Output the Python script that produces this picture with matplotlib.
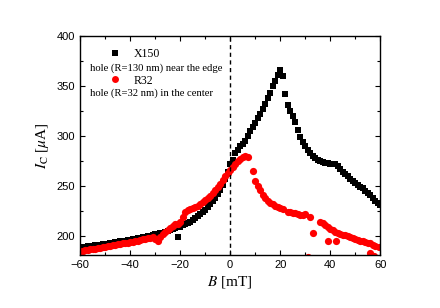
import matplotlib
matplotlib.use("Agg")
import matplotlib.pyplot as plt
from matplotlib.lines import Line2D
from matplotlib.ticker import MultipleLocator

plt.rcParams["mathtext.fontset"] = "stix"

# X150: hole (R=130 nm) near the edge
b_x150 = [-60, -59, -58, -57, -56, -55, -54, -53, -52, -51, -50, -49, -48, -47, -46,
          -45, -44, -43, -42, -41, -40, -39, -38, -37, -36, -35, -34, -33, -32, -31,
          -30, -29, -28, -27, -26, -25, -24, -23, -22, -21, -20, -19, -18, -17, -16,
          -15, -14, -13, -12, -11, -10, -9, -8, -7, -6, -5, -4, -3, -2, -1,
          0, 1, 2, 3, 4, 5, 6, 7, 8, 9, 10, 11, 12, 13, 14,
          15, 16, 17, 18, 19, 20, 21, 22, 23, 24, 25, 26, 27, 28, 29,
          30, 31, 32, 33, 34, 35, 36, 37, 38, 39, 40, 41, 42, 43, 44,
          45, 46, 47, 48, 49, 50, 51, 52, 53, 54, 55, 56, 57, 58, 59, 60]
i_x150 = [189, 189, 189, 190, 190, 190, 191, 191, 191, 192, 192, 192, 193, 193, 194,
          194, 195, 195, 195, 196, 196, 197, 197, 198, 198, 199, 199, 200, 200, 201,
          202, 202, 203, 203, 204, 205, 206, 207, 208, 199, 209, 211, 212, 213, 214,
          216, 218, 220, 222, 224, 226, 229, 232, 235, 238, 242, 246, 251, 257, 264,
          272, 276, 283, 286, 290, 292, 295, 300, 305, 309, 313, 318, 322, 327, 332,
          338, 343, 350, 355, 361, 366, 360, 342, 331, 325, 320, 314, 306, 299, 294,
          290, 286, 283, 280, 278, 276, 275, 274, 273, 273, 272, 272, 272, 270, 267,
          264, 262, 260, 257, 255, 253, 251, 249, 248, 245, 243, 241, 238, 235, 233, 231]

# R32: hole (R=32 nm) in the center
b_r32 = [-60, -59, -58, -57, -56, -55, -54, -53, -52, -51, -50, -49, -48, -47, -46,
         -45, -44, -43, -42, -41, -40, -39, -38, -37, -36, -35, -34, -33, -32, -31,
         -30, -29, -28, -27, -26, -25, -24, -23, -22, -21, -20, -19, -18, -17, -16,
         -15, -14, -13, -12, -11, -10, -9, -8, -7, -6, -5, -4, -3, -2, -1,
         0, 1, 2, 3, 4, 5, 6, 7, 9, 10, 11, 12, 13, 14, 15,
         16, 17, 18, 19, 20, 21, 23, 24, 25, 26, 27, 28, 29, 30, 31.3,
         32, 33.3, 36, 37, 38, 39, 39.3, 40, 41, 42, 42.4, 43, 44, 45, 46,
         47, 48, 49, 50, 51, 52, 53, 54, 55, 56, 56, 57, 57.5, 58, 59.5]
i_r32 = [185, 185, 186, 186, 187, 187, 187, 188, 188, 189, 189, 190, 190, 191, 191,
         192, 192, 193, 193, 193, 194, 194, 195, 195, 196, 197, 197, 198, 198, 199,
         197, 195, 199, 202, 204, 206, 208, 210, 212, 212, 214, 219, 224, 226, 227,
         228, 229, 230, 232, 234, 236, 238, 240, 243, 246, 249, 252, 256, 260, 263,
         266, 269, 272, 275, 277, 279, 280, 279, 265, 255, 250, 246, 241, 238, 235,
         233, 232, 230, 229, 228, 227, 224, 224, 223, 223, 222, 221, 221, 222, 179,
         219, 203, 214, 213, 211, 209, 195, 207, 206, 204, 195, 203, 202, 201, 201,
         200, 199, 198, 197, 196, 195, 195, 194, 193, 193, 183, 191, 180, 190, 189]

serif = ["Liberation Serif", "DejaVu Serif"]
sans = ["Liberation Sans", "DejaVu Sans"]

fig = plt.figure(figsize=(4.4, 3.08), dpi=100)
ax = fig.add_axes([0.182, 0.172, 0.682, 0.711])

ax.plot(b_x150, i_x150, ls="none", marker="s", ms=4.2, color="black", mew=0)
ax.plot(b_r32, i_r32, ls="none", marker="o", ms=5.2, color="red", mew=0)
ax.axvline(0, color="black", ls=(0, (3, 2.5)), lw=1)

ax.set_xlim(-60, 60)
ax.set_ylim(181, 400)
ax.xaxis.set_major_locator(MultipleLocator(20))
ax.xaxis.set_minor_locator(MultipleLocator(10))
ax.yaxis.set_major_locator(MultipleLocator(50))
ax.yaxis.set_minor_locator(MultipleLocator(25))
ax.tick_params(which="both", direction="in", top=True, right=True, width=0.8)
ax.tick_params(which="major", length=3.5)
ax.tick_params(which="minor", length=2)
for lab in ax.get_xticklabels() + ax.get_yticklabels():
    lab.set_family(sans)
    lab.set_fontsize(8)
for sp in ax.spines.values():
    sp.set_linewidth(1)

ax.set_xlabel(r"$B$ [mT]", family=serif, fontsize=11, labelpad=3)
ax.set_ylabel(r"$I_{\rm C}$ [$\mu$A]", family=serif, fontsize=11, labelpad=4)

handles = [Line2D([], [], ls="none", marker="s", ms=4.5, color="black", mew=0),
           Line2D([], [], ls="none", marker="o", ms=5, color="red", mew=0)]
leg = ax.legend(handles, ["X150", "R32"], loc="upper left", frameon=False,
                bbox_to_anchor=(0.04, 0.995), labelspacing=1.25, handletextpad=0.6,
                prop={"family": serif, "size": 8.5})
ax.text(0.033, 0.854, "hole (R=130 nm) near the edge", transform=ax.transAxes,
        family=serif, fontsize=7.7, va="center")
ax.text(0.033, 0.74, "hole (R=32 nm) in the center", transform=ax.transAxes,
        family=serif, fontsize=7.7, va="center")

fig.savefig("out.png", dpi=100)
